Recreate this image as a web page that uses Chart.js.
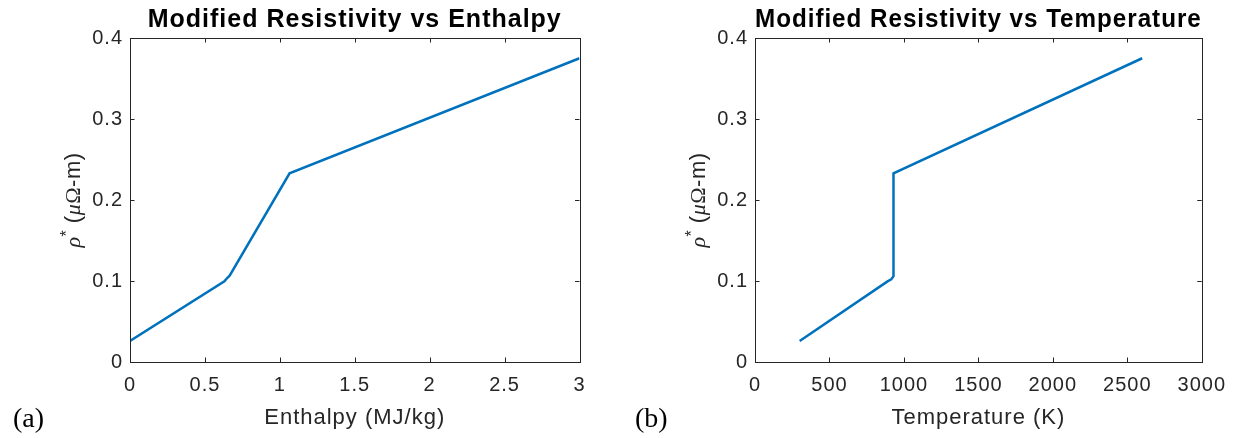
<!DOCTYPE html>
<html>
<head>
<meta charset="utf-8">
<script src="https://cdn.jsdelivr.net/npm/chart.js@4.4.1/dist/chart.umd.min.js"></script>
<style>
  body { margin: 0; background: #fff; }
  #wrap { position: relative; width: 1235px; height: 438px; }
  canvas { position: absolute; top: 0; }
</style>
</head>
<body>
<div id="wrap">
  <canvas id="chartH" width="617" height="438" style="left:0"></canvas>
  <canvas id="chartT" width="618" height="438" style="left:617px"></canvas>
</div>
<script>
// Panel (a): resistivity vs enthalpy
var enthalpy = [0, 0.63, 0.65, 0.665, 1.065, 3];
var rhoVsEnthalpy = [0.026, 0.0995, 0.104, 0.1065, 0.233, 0.375];

// Panel (b): resistivity vs temperature
var temperature = [300, 890, 915, 930, 930, 2600];
var rhoVsTemperature = [0.026, 0.0995, 0.102, 0.106, 0.233, 0.375];

var enthalpyTicks = [0, 0.5, 1, 1.5, 2, 2.5, 3];
var temperatureTicks = [0, 500, 1000, 1500, 2000, 2500, 3000];
var rhoTicks = [0, 0.1, 0.2, 0.3, 0.4];

var axisColor = '#262626';
var lineColor = '#0072BD';
var sans = '"Liberation Sans", Arial, sans-serif';
var serif = '"Liberation Serif", "Times New Roman", serif';

function toPoints(xs, ys) {
    return xs.map(function (x, i) { return { x: x, y: ys[i] }; });
}

// matlab-ish look: spaced text, boxed axes, ticks pointing inwards
var matlabLook = {
    id: 'matlabLook',
    beforeDraw: function (chart) {
        chart.ctx.letterSpacing = '1px';
    },
    afterDraw: function (chart, args, opts) {
        var ctx = chart.ctx;
        var a = chart.chartArea;
        var xs = chart.scales.x, ys = chart.scales.y;
        var tl = 4.5;
        ctx.save();
        ctx.strokeStyle = axisColor;
        ctx.lineWidth = 1;
        ctx.strokeRect(Math.round(a.left) + 0.5, Math.round(a.top) + 0.5,
            Math.round(a.right - a.left), Math.round(a.bottom - a.top));
        ctx.beginPath();
        xs.ticks.forEach(function (t) {
            var px = Math.round(xs.getPixelForValue(t.value)) + 0.5;
            ctx.moveTo(px, a.bottom); ctx.lineTo(px, a.bottom - tl);
            ctx.moveTo(px, a.top); ctx.lineTo(px, a.top + tl);
        });
        ys.ticks.forEach(function (t) {
            var py = Math.round(ys.getPixelForValue(t.value)) + 0.5;
            ctx.moveTo(a.left, py); ctx.lineTo(a.left + tl, py);
            ctx.moveTo(a.right, py); ctx.lineTo(a.right - tl, py);
        });
        ctx.stroke();

        // y axis title with tex-like pieces
        var parts = [
            { t: 'ρ', f: 'italic 22px ' + serif, dy: 0 },
            { t: '*', f: '16px ' + sans, dy: -8 },
            { t: ' (', f: '22px ' + sans, dy: 0 },
            { t: 'μ', f: 'italic 22px ' + serif, dy: 0 },
            { t: 'Ω', f: '22px ' + serif, dy: 0 },
            { t: '-m)', f: '22px ' + sans, dy: 0 }
        ];
        ctx.letterSpacing = '0.5px';
        var total = 0;
        parts.forEach(function (p) {
            ctx.font = p.f;
            p.w = ctx.measureText(p.t).width;
            total += p.w;
        });
        ctx.translate(a.left - 57, (a.top + a.bottom) / 2);
        ctx.rotate(-Math.PI / 2);
        ctx.fillStyle = axisColor;
        ctx.textBaseline = 'alphabetic';
        ctx.textAlign = 'left';
        var cx = -total / 2;
        parts.forEach(function (p) {
            ctx.font = p.f;
            ctx.fillText(p.t, cx, 7 + p.dy);
            cx += p.w;
        });
        ctx.restore();

        // panel letter
        ctx.save();
        ctx.letterSpacing = '0px';
        ctx.font = '28px ' + serif;
        ctx.fillStyle = '#000';
        ctx.textBaseline = 'middle';
        ctx.textAlign = 'left';
        ctx.fillText(opts.panel, opts.panelX, 420);
        ctx.restore();
    }
};

function makeChart(id, xs, ys, xTicks, xTitle, title, panel, panelX, yWidth, padRight, fmt) {
    var ctx = document.getElementById(id).getContext('2d');
    return new Chart(ctx, {
        type: 'scatter',
        data: {
            datasets: [{
                data: toPoints(xs, ys),
                showLine: true,
                borderColor: lineColor,
                backgroundColor: lineColor,
                borderWidth: 2.5,
                pointRadius: 0,
                tension: 0
            }]
        },
        options: {
            responsive: false,
            animation: false,
            devicePixelRatio: 1,
            layout: { padding: { left: 0, right: padRight, top: 0, bottom: 0 } },
            plugins: {
                legend: { display: false },
                tooltip: { enabled: false },
                title: {
                    display: true,
                    text: title,
                    fullSize: false,
                    color: '#000',
                    font: { family: sans, size: 25, weight: 'bold', lineHeight: 1.2 },
                    padding: { top: 5, bottom: 3 }
                },
                matlabLook: { panel: panel, panelX: panelX }
            },
            scales: {
                x: {
                    type: 'linear',
                    min: xTicks[0],
                    max: xTicks[xTicks.length - 1],
                    afterBuildTicks: function (s) {
                        s.ticks = xTicks.map(function (v) { return { value: v }; });
                    },
                    afterFit: function (s) { s.height = 76; },
                    grid: { display: false, drawTicks: false },
                    border: { display: false },
                    ticks: {
                        color: axisColor,
                        font: { family: sans, size: 20 },
                        padding: 11,
                        maxRotation: 0,
                        autoSkip: false,
                        callback: fmt
                    },
                    title: {
                        display: true,
                        text: xTitle,
                        color: axisColor,
                        font: { family: sans, size: 22, lineHeight: 1.2 },
                        padding: { top: 0, bottom: 7 }
                    }
                },
                y: {
                    type: 'linear',
                    min: rhoTicks[0],
                    max: rhoTicks[rhoTicks.length - 1],
                    afterBuildTicks: function (s) {
                        s.ticks = rhoTicks.map(function (v) { return { value: v }; });
                    },
                    afterFit: function (s) { s.width = yWidth; },
                    grid: { display: false, drawTicks: false },
                    border: { display: false },
                    ticks: {
                        color: axisColor,
                        font: { family: sans, size: 20 },
                        padding: 7,
                        callback: function (v) { return String(+v.toFixed(2)); }
                    }
                }
            }
        },
        plugins: [matlabLook]
    });
}

makeChart('chartH', enthalpy, rhoVsEnthalpy, enthalpyTicks, 'Enthalpy (MJ/kg)',
    'Modified Resistivity vs Enthalpy', '(a)', 13, 130, 37.5,
    function (v) { return String(+v.toFixed(2)); });

makeChart('chartT', temperature, rhoVsTemperature, temperatureTicks, 'Temperature (K)',
    'Modified Resistivity vs Temperature', '(b)', 18, 138, 30.5,
    function (v) { return String(v); });
</script>
</body>
</html>
